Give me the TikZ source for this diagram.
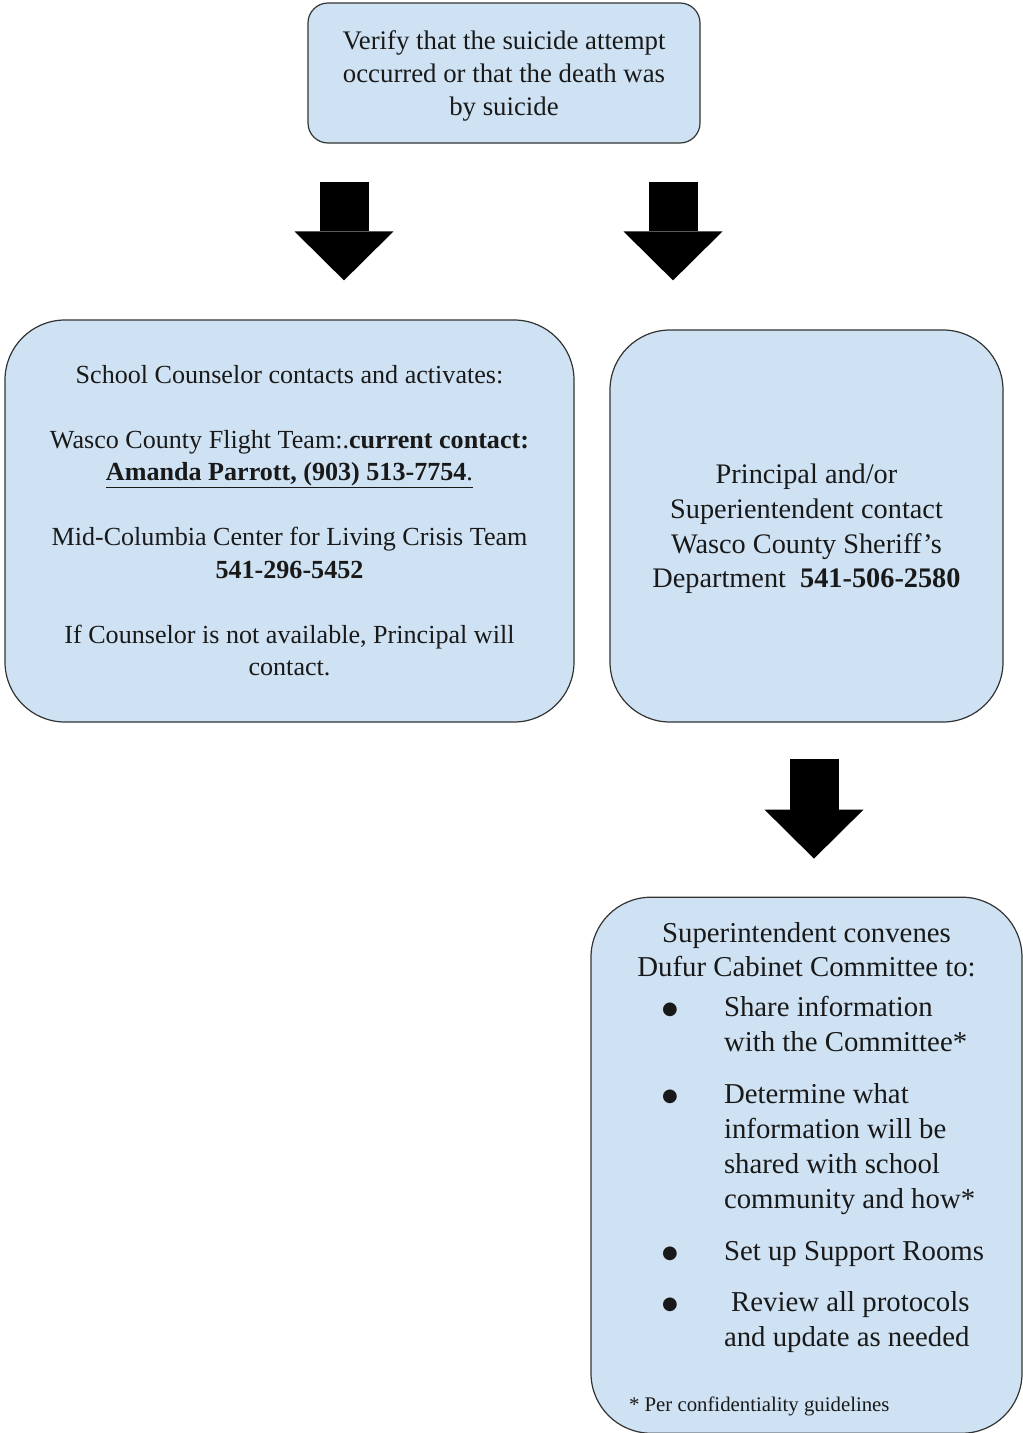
\documentclass[tikz,border=0pt]{standalone}
\usepackage{fontspec}
\setmainfont{Liberation Serif}
\newfontfamily\dotfont{DejaVu Sans}
\usetikzlibrary{arrows.meta, positioning}
\definecolor{boxblue}{HTML}{CFE2F3}
\newcommand{\stepdot}{\makebox[62pt][l]{\raisebox{2pt}{\dotfont\fontsize{18}{35}\selectfont ●}}}
\newcommand{\stepitem}{\hangindent=123pt\hangafter=1\noindent\hspace*{61pt}\stepdot}

\begin{document}
\begin{tikzpicture}[
    x=1pt, y=-1pt,
    entity/.style = {
      draw=black!80, line width=1.2pt, rounded corners=60pt,
      fill=boxblue, align=center, inner sep=0pt,
      text=black!90,
      font=\fontsize{26.5}{35}\selectfont
    },
    flow/.style = {
      line width=49pt,
      -{Triangle[length=49pt, width=99pt, line width=0pt]}
    }
  ]

    \useasboundingbox (0,0) rectangle (1023,1433);

    \node[entity, rounded corners=20pt, minimum width=392pt, minimum height=140pt,
          text depth=-4pt, font=\fontsize{26.8}{33}\selectfont] (verify) at (504,73)
      {Verify that the suicide attempt\\occurred or that the death was\\by suicide};

    \node[entity, minimum width=569pt, minimum height=402pt, text depth=1.6pt,
          font=\fontsize{26.1}{32.5}\selectfont] (counsel) at (289.5,521)
      {School Counselor contacts and activates:\\[32.5pt]
       Wasco County Flight Team:.\textbf{current contact:}\\
       \underline{\textbf{Amanda Parrott, (903) 513-7754}.}\\[32.5pt]
       Mid-Columbia Center for Living Crisis Team\\
       \textbf{541-296-5452}\\[32.5pt]
       If Counselor is not available, Principal will\\
       contact.};

    \node[entity, minimum width=393pt, minimum height=392pt, text depth=-2pt,
          font=\fontsize{28.3}{34.7}\selectfont] (principal) at (806.5,526)
      {Principal and/or\\Superientendent contact\\Wasco County Sheriff’s\\
       Department\ \ \textbf{541-506-2580}};

    \node[entity, minimum width=431pt, minimum height=536pt,
          font=\fontsize{28.8}{35}\selectfont,
          below=174pt of principal] (convene)
      {\begin{minipage}{411pt}
         \vspace*{8pt}
         \centering
         Superintendent convenes\\[-1pt]
         Dufur Cabinet Committee to:\par
         \raggedright\vspace{5pt}
         \stepitem Share information\newline with the Committee*\par\vspace{17pt}
         \stepitem Determine what\newline information will be\newline
           shared with school\newline community and how*\par\vspace{17pt}
         \stepitem Set up Support Rooms\par\vspace{16pt}
         \stepitem \ Review all protocols\newline and update as needed\par\vspace{30pt}
         \hspace*{28pt}{\fontsize{20.8}{23}\selectfont * Per confidentiality guidelines}\par
       \end{minipage}};

    % block arrows
    \coordinate (leftcol) at (344,0);
    \coordinate (rightcol) at (673,0);
    \coordinate (lowcol) at (814,0);

    \draw[flow, shorten <=38pt, shorten >=39pt]
      (verify.south -| leftcol) -- (counsel.north -| leftcol);
    \draw[flow, shorten <=38pt, shorten >=49pt]
      (verify.south -| rightcol) -- (principal.north -| rightcol);
    \draw[flow, shorten <=36pt, shorten >=38pt]
      (principal.south -| lowcol) -- (convene.north -| lowcol);

  \end{tikzpicture}
\end{document}
